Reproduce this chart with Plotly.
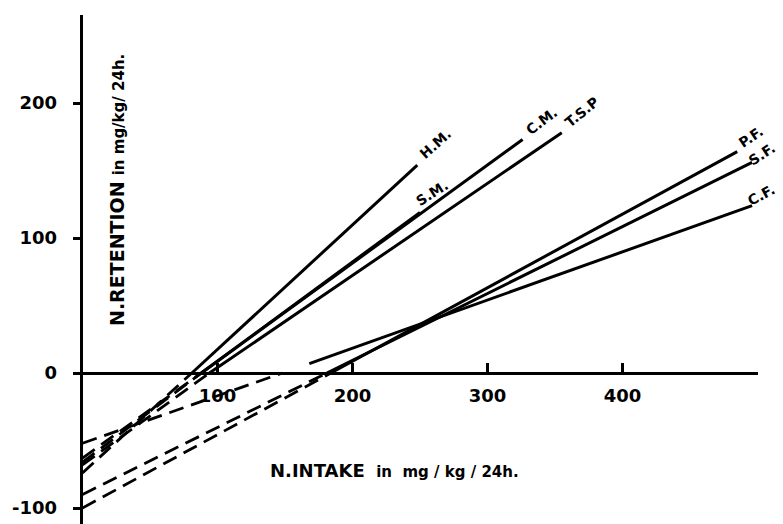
import plotly.graph_objects as go

# ---- data ----
series = ["H.M.", "S.M.", "C.M.", "T.S.P", "P.F.", "S.F.", "C.F."]
dash_x0 = [0, 0, 0, 0, 0, 0, 0]
dash_y0 = [-74, -66, -63, -68, -100, -90, -52]
dash_x1 = [81, 88, 88, 94, 184, 181, 148]
dash_y1 = [0, 0, 0, 0, 0, 0, 0]
solid_x0 = [81, 88, 88, 94, 184, 181, 168]
solid_y0 = [0, 0, 0, 0, 0, 0, 7]
solid_x1 = [248, 250, 326, 355, 485, 496, 496]
solid_y1 = [154, 119, 173, 178, 164, 156, 124]
label_x = [261, 259, 340, 370, 495, 499, 499]
label_shift = [0, 0, 0, 0, 0, 6, 5]
label_y = [170, 133, 187, 193, 175, 162, 132]
label_angle = [-42, -32, -37, -39, -34, -33, -28]

x_ticks = [100, 200, 300, 400]
x_tick_text = ["100", "200", "300", "400"]
y_ticks = [-100, 0, 100, 200]
y_tick_text = ["-100", "0", "100", "200"]

FONT = "DejaVu Sans"

fig = go.Figure()
for i, name in enumerate(series):
    fig.add_trace(go.Scatter(
        x=[dash_x0[i], dash_x1[i]], y=[dash_y0[i], dash_y1[i]],
        mode="lines", line=dict(color="black", width=2.8, dash="15px,8px"),
        showlegend=False, hoverinfo="skip"))
    fig.add_trace(go.Scatter(
        x=[solid_x0[i], solid_x1[i]], y=[solid_y0[i], solid_y1[i]],
        mode="lines", line=dict(color="black", width=3),
        name=name, showlegend=False))
    fig.add_annotation(x=label_x[i], y=label_y[i], xshift=label_shift[i],
                       text=f"<b>{name}</b>",
                       showarrow=False, textangle=label_angle[i],
                       font=dict(family=FONT, size=14, color="black"))

# axis titles
fig.add_annotation(xref="paper", yref="paper", x=268/783, y=1-470/524,
                   xanchor="left", yanchor="middle", showarrow=False,
                   text="<b>N.INTAKE</b>  <span style='font-size:15px'><b>in  mg / kg / 24h.</b></span>",
                   font=dict(family=FONT, size=18, color="black"))
fig.add_annotation(xref="paper", yref="paper", x=117/783, y=1-190/524,
                   xanchor="center", yanchor="middle", showarrow=False, textangle=-90,
                   text="<b>N.RETENTION</b> <span style='font-size:15px'><b>in mg/kg/ 24h.</b></span>",
                   font=dict(family=FONT, size=19, color="black"))

fig.update_layout(
    width=783, height=524,
    margin=dict(l=0, r=0, t=0, b=0),
    paper_bgcolor="white", plot_bgcolor="white",
    xaxis=dict(domain=[82.5/783, 757.5/783], range=[0, 500],
               anchor="free", position=(524-373)/524,
               showgrid=False, zeroline=False, showline=True, linecolor="black", linewidth=2.5,
               ticks="inside", ticklen=9, tickwidth=2.5, tickcolor="black",
               tickvals=x_ticks, ticktext=x_tick_text, ticklabelstandoff=6,
               tickfont=dict(family=FONT, size=18, color="black", weight="bold")),
    yaxis=dict(domain=[0, 509/524], range=[-111.85, 265.2],
               anchor="x",
               showgrid=False, zeroline=False, showline=True, linecolor="black", linewidth=2.5,
               ticks="outside", ticklen=7, tickwidth=2.5, tickcolor="black",
               tickvals=y_ticks, ticktext=y_tick_text, ticklabelstandoff=12,
               tickfont=dict(family=FONT, size=18, color="black", weight="bold")),
)

fig.write_html("out.html")
